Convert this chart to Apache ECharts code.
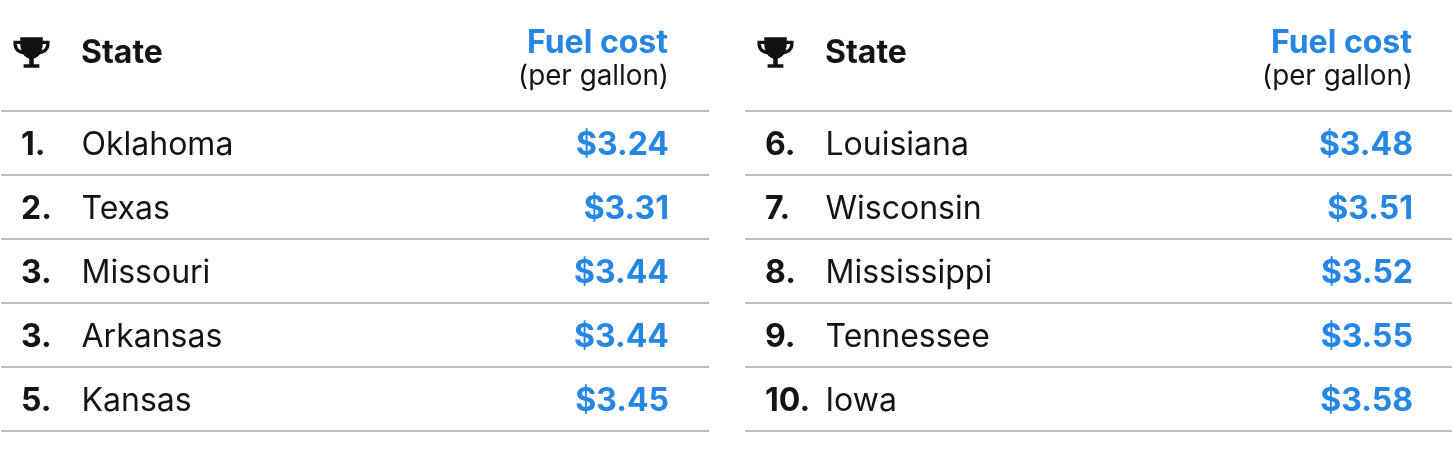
<!DOCTYPE html>
<html><head><meta charset="utf-8">
<style>html,body{margin:0;padding:0;background:#fff}#c{width:1452px;height:451px}</style>
<script src="https://cdn.jsdelivr.net/npm/echarts@6/dist/echarts.min.js"></script>
</head><body><div id="c"></div>
<script>
const ranksA = ['1.','2.','3.','3.','5.'];
const statesA = ['Oklahoma','Texas','Missouri','Arkansas','Kansas'];
const costsA = ['$3.24','$3.31','$3.44','$3.44','$3.45'];
const ranksB = ['6.','7.','8.','9.','10.'];
const statesB = ['Louisiana','Wisconsin','Mississippi','Tennessee','Iowa'];
const costsB = ['$3.48','$3.51','$3.52','$3.55','$3.58'];
const headState = 'State', headCost = 'Fuel cost', headUnit = '(per gallon)';

const FONT = 'Inter, "Noto Sans", sans-serif';
const BLUE = '#2587e3', INK = '#141414', RULE = '#bdbdbd';
const TROPHY = 'M6 0H26V3H32V6C32 11 28.5 14.5 23.5 15C22 17 20 18.3 18 18.8V24H23V27H9V24H14V18.8C12 18.3 10 17 8.5 15C3.5 14.5 0 11 0 6V3H6ZM3 6C3 9 4.6 11 7 11.8C6.4 10 6 8 6 6ZM29 6H26C26 8 25.6 10 25 11.8C27.4 11 29 9 29 6Z';

function panel(i, ranks, states, costs){
  return {
    type:'custom', coordinateSystem:'cartesian2d', xAxisIndex:i, yAxisIndex:i, silent:true, clip:false,
    data: states.map((s,k)=>[0,k]),
    renderItem(p,api){
      const k = api.value(1), y = api.coord([0,k])[1] + 2, x0 = p.coordSys.x;
      const t = (x,text,align,font,fill)=>({type:'text',style:{x:x0+x,y:y,text,align,verticalAlign:'middle',font,fill}});
      const kids = [
        t(20,ranks[k],'left',`700 32px ${FONT}`,INK),
        t(80.5,states[k],'left',`400 32px ${FONT}`,INK),
        t(668,costs[k],'right',`700 32px ${FONT}`,BLUE)
      ];
      if(k===0) kids.push({type:'path',shape:{pathData:TROPHY,x:x0+12.5,y:37,width:36,height:31},style:{fill:'#111'}});
      return {type:'group',children:kids};
    }
  };
}
function axes(n){
  return {
    x:{gridIndex:n,type:'value',min:0,max:1,show:false},
    y:{gridIndex:n,type:'category',inverse:true,data:[0,1,2,3,4],axisLine:{show:false},axisTick:{show:false},axisLabel:{show:false},
       splitLine:{show:true,lineStyle:{color:RULE,width:2}}}
  };
}
function header(x0){
  return [
    {type:'text',x:x0+81,y:53,style:{text:headState,font:`700 32px ${FONT}`,fill:INK,verticalAlign:'middle'}},
    {type:'text',x:x0+668,y:43,style:{text:headCost,font:`700 32px ${FONT}`,fill:BLUE,align:'right',verticalAlign:'middle'}},
    {type:'text',x:x0+669,y:77,style:{text:headUnit,font:`400 27.8px ${FONT}`,fill:INK,align:'right',verticalAlign:'middle'}}
  ];
}
const a0=axes(0), a1=axes(1);
const chart = echarts.init(document.getElementById('c'),null,{renderer:'canvas'});
chart.setOption({
  animation:false, backgroundColor:'#fff',
  grid:[{left:1,top:111,width:708,height:320},{left:745,top:111,width:707,height:320}],
  xAxis:[a0.x,a1.x], yAxis:[a0.y,a1.y],
  graphic:[...header(0),...header(744)],
  series:[panel(0,ranksA,statesA,costsA),panel(1,ranksB,statesB,costsB)]
});
</script></body></html>
